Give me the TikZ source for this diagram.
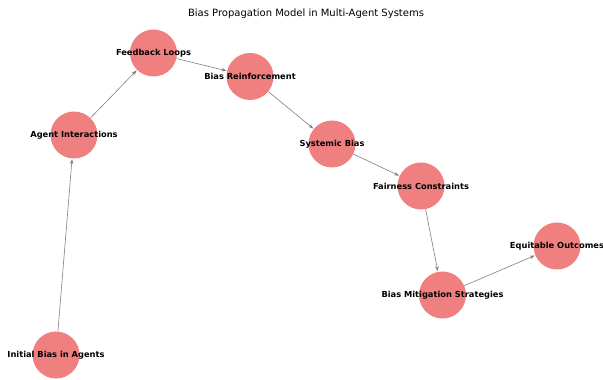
\documentclass[tikz,border=0pt]{standalone}
\usepackage{fontspec}
\setmainfont{DejaVu Sans}
\usetikzlibrary{arrows.meta}
\definecolor{nodefill}{HTML}{F08080}
\definecolor{edgecol}{HTML}{808080}
\tikzset{
  agent/.style={circle, fill=nodefill, minimum size=47pt, inner sep=0pt},
  lbl/.style={font=\fontsize{8.3}{9}\selectfont\bfseries, text=black, inner sep=0pt},
  flow/.style={draw=edgecol, line width=0.6pt, -{Stealth[length=5pt,width=3.5pt]}, shorten >=0.5pt}
}
\begin{document}
\begin{tikzpicture}[x=1pt,y=1pt]
\clip (0,0) rectangle (603,380);
\useasboundingbox (0,0) rectangle (603,380);
\fill[white] (0,0) rectangle (603,380);
\node[font=\fontsize{10}{12}\selectfont] (title) at (306,366) {Bias Propagation Model in Multi-Agent Systems};
\node[agent] (ib) at (56,25) {};
\node[agent] (ai) at (74,245) {};
\node[agent] (fl) at (153.5,327) {};
\node[agent] (br) at (250,303.5) {};
\node[agent] (sb) at (332,236) {};
\node[agent] (fc) at (421,194) {};
\node[agent] (bm) at (442.5,85) {};
\node[agent] (eo) at (557,134) {};
\draw[flow] (ib) -- (ai);
\draw[flow] (ai) -- (fl);
\draw[flow] (fl) -- (br);
\draw[flow] (br) -- (sb);
\draw[flow] (sb) -- (fc);
\draw[flow] (fc) -- (bm);
\draw[flow] (bm) -- (eo);
\node[lbl] (tib) at (ib) {Initial Bias in Agents};
\node[lbl] (tai) at (ai) {Agent Interactions};
\node[lbl] (tfl) at (fl) {Feedback Loops};
\node[lbl] (tbr) at (br) {Bias Reinforcement};
\node[lbl] (tsb) at (sb) {Systemic Bias};
\node[lbl] (tfc) at (fc) {Fairness Constraints};
\node[lbl] (tbm) at (bm) {Bias Mitigation Strategies};
\node[lbl] (teo) at (eo) {Equitable Outcomes};
\end{tikzpicture}
\end{document}
